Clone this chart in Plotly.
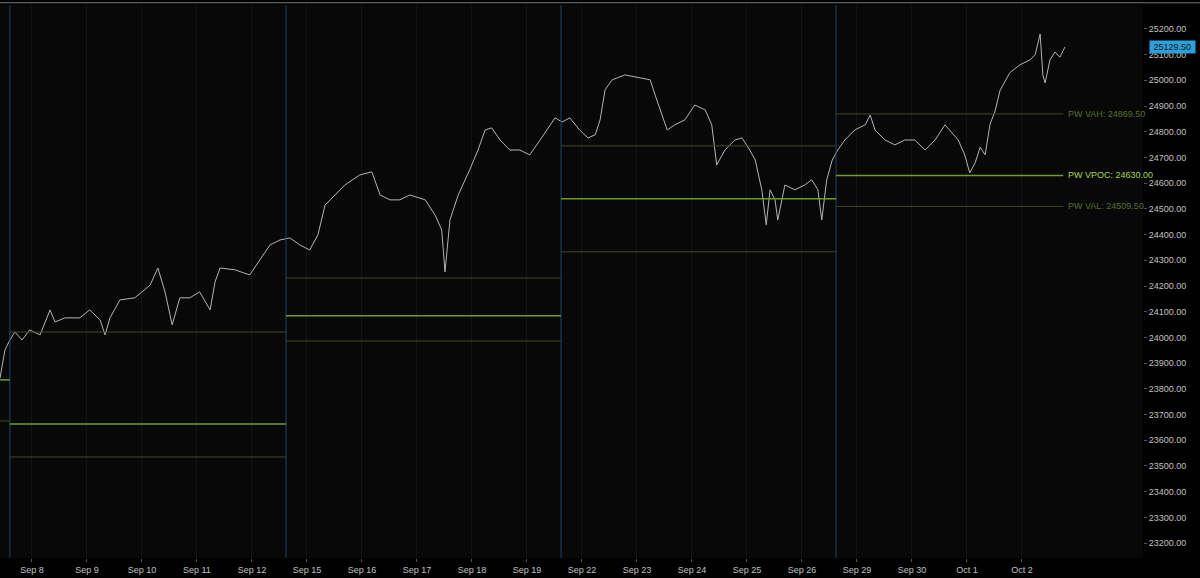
import plotly.graph_objects as go

# trading-day time (0 = Sep 8 midnight tick) and price
price_t = [-0.58,-0.49,-0.40,-0.31,-0.18,-0.04,0.15,0.33,0.42,0.60,0.87,1.05,1.24,1.33,1.42,1.60,1.87,2.15,2.29,2.42,2.55,2.69,2.87,3.05,3.24,3.33,3.42,3.69,3.96,4.15,4.33,4.51,4.69,4.87,5.05,5.20,5.33,5.51,5.69,5.96,6.18,6.33,6.51,6.69,6.87,7.15,7.33,7.45,7.51,7.60,7.75,7.96,8.11,8.24,8.36,8.51,8.69,8.87,9.05,9.24,9.42,9.51,9.64,9.78,9.96,10.11,10.24,10.33,10.42,10.55,10.78,11.05,11.24,11.33,11.42,11.55,11.69,11.87,12.05,12.24,12.36,12.45,12.60,12.78,12.91,13.05,13.15,13.27,13.35,13.42,13.51,13.56,13.69,13.87,14.05,14.18,14.29,14.36,14.45,14.55,14.65,14.78,14.96,15.15,15.24,15.33,15.51,15.69,15.87,16.05,16.24,16.42,16.60,16.69,16.84,16.96,17.05,17.15,17.24,17.33,17.42,17.51,17.60,17.78,17.96,18.15,18.24,18.33,18.38,18.42,18.51,18.60,18.69,18.78]
price_v = [23842,23951,23990,24021,23990,24029,24010,24107,24060,24076,24076,24107,24068,24010,24076,24146,24154,24204,24270,24177,24049,24154,24154,24177,24107,24216,24270,24263,24243,24301,24360,24379,24387,24360,24340,24399,24515,24554,24593,24632,24644,24554,24535,24535,24554,24535,24476,24418,24255,24457,24554,24652,24729,24807,24815,24768,24729,24729,24710,24768,24827,24854,24838,24854,24806,24776,24788,24846,24963,25002,25021,25009,25002,24943,24885,24807,24827,24846,24904,24885,24827,24671,24729,24768,24776,24729,24690,24574,24438,24574,24535,24457,24593,24574,24593,24613,24574,24457,24613,24690,24729,24768,24807,24827,24865,24806,24768,24749,24768,24768,24729,24768,24827,24806,24768,24710,24640,24680,24740,24710,24830,24880,24960,25030,25060,25080,25100,25180,25020,24990,25080,25110,25090,25129.5]

# weekly profile levels
week_start = [-0.40, 4.62, 9.62, 14.62]
week_end   = [4.62, 9.62, 14.62, 18.75]
vah  = [24021, 24231, 24745, 24869.5]
vpoc = [23663, 24084, 24539, 24630]
val  = [23535, 23986, 24333, 24509.5]

tick_pos = list(range(19))
tick_lab = ["Sep 8","Sep 9","Sep 10","Sep 11","Sep 12","Sep 15","Sep 16","Sep 17","Sep 18","Sep 19",
            "Sep 22","Sep 23","Sep 24","Sep 25","Sep 26","Sep 29","Sep 30","Oct 1","Oct 2"]
y_ticks = list(range(23200, 25201, 100))
last_price = 25129.5

fig = go.Figure()
fig.add_trace(go.Scatter(x=price_t, y=price_v, mode="lines",
                         line=dict(color="#b4b4b4", width=1), hoverinfo="skip", showlegend=False))

shapes = []
for ws in week_start:
    shapes.append(dict(type="line", xref="x", yref="paper", x0=ws, x1=ws, y0=0, y1=1,
                       line=dict(color="#1d4566", width=1)))
for i in range(4):
    for lv, col, w in ((vah[i], "#3d4a25", 1), (val[i], "#3d4a25", 1), (vpoc[i], "#6d9e2a", 1.5)):
        shapes.append(dict(type="line", xref="x", yref="y", x0=week_start[i], x1=week_end[i],
                           y0=lv, y1=lv, line=dict(color=col, width=w)))
shapes.append(dict(type="line", xref="x", yref="y", x0=-0.58, x1=-0.40, y0=23835, y1=23835, line=dict(color="#6d9e2a", width=1.5)))
shapes.append(dict(type="line", xref="x", yref="y", x0=-0.58, x1=-0.40, y0=23675, y1=23675, line=dict(color="#3d4a25", width=1)))
shapes.append(dict(type="line", xref="paper", yref="paper", x0=0, x1=1.05, y0=1.004, y1=1.004, line=dict(color="#777", width=1)))

ann = [
    dict(x=week_end[3], y=vah[3], text="PW VAH: 24869.50", font=dict(color="#56702a", size=9)),
    dict(x=week_end[3], y=vpoc[3], text="PW VPOC: 24630.00", font=dict(color="#a6d64a", size=9)),
    dict(x=week_end[3], y=val[3], text="PW VAL: 24509.50", font=dict(color="#56702a", size=9)),
]
annotations = [dict(a, xref="x", yref="y", xanchor="left", yanchor="middle", showarrow=False, xshift=3,
                    font=dict(a["font"], family="Arial")) for a in ann]
annotations.append(dict(x=1, xref="paper", y=last_price, yref="y", text=" 25129.50 ", showarrow=False,
                        xanchor="left", yanchor="middle", xshift=6, bgcolor="#2d9fd9",
                        font=dict(color="#0a1a26", size=9, family="Arial"), borderpad=1))

fig.update_layout(
    width=1200, height=578, margin=dict(l=0, r=57, t=5, b=20, autoexpand=False),
    paper_bgcolor="#000000", plot_bgcolor="#080808",
    shapes=shapes, annotations=annotations,
    xaxis=dict(range=[-0.58, 20.2], tickvals=tick_pos, ticktext=tick_lab, showgrid=True, automargin=False,
               gridcolor="#141414", zeroline=False, ticks="outside", ticklen=3, tickcolor="#555",
               tickfont=dict(color="#c0c0c0", size=9, family="Arial"), showline=False),
    yaxis=dict(side="right", range=[23142, 25293], tickvals=y_ticks, automargin=False,
               ticktext=[f"{v:.2f}" for v in y_ticks], showgrid=False, zeroline=False,
               ticks="outside", ticklen=3, tickcolor="#555",
               tickfont=dict(color="#c0c0c0", size=9, family="Arial")),
)
fig.write_html("out.html", config={"displayModeBar": False},
               post_script="document.body.style.margin='0';document.body.style.background='#000';")
